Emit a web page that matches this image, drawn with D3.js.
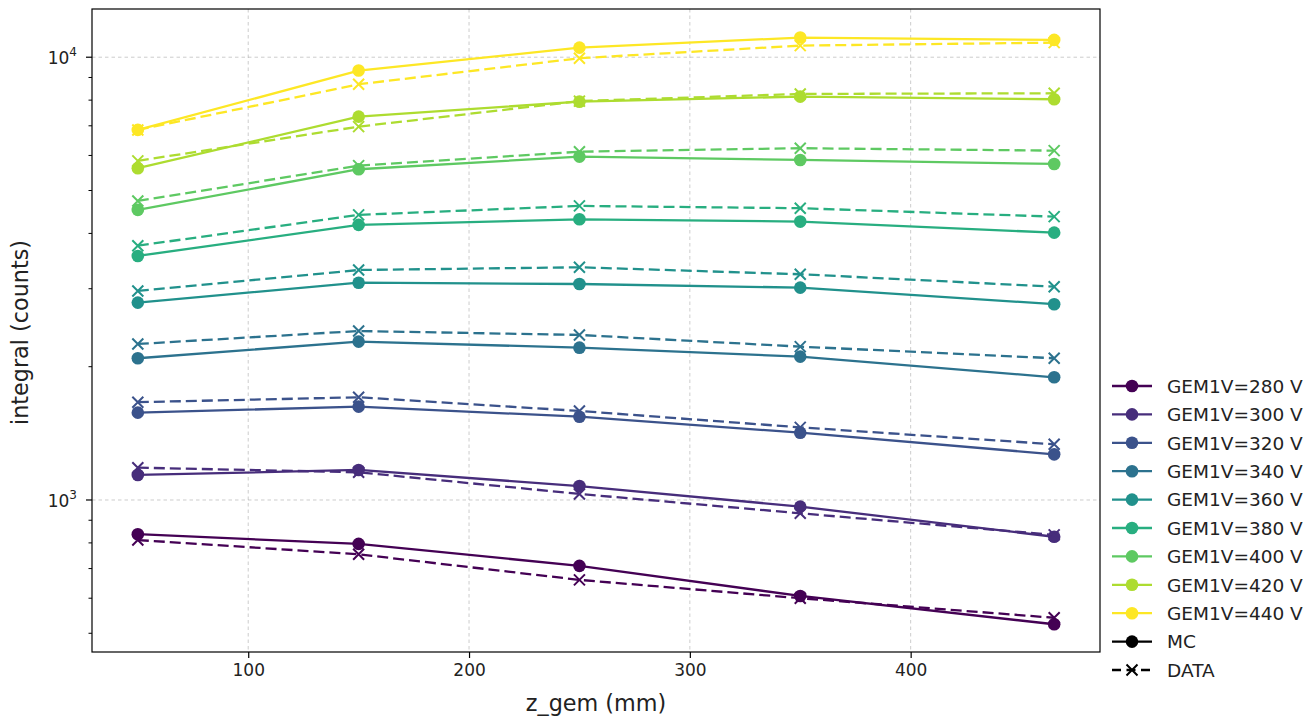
<!DOCTYPE html>
<html>
<head>
<meta charset="utf-8">
<script src="https://cdn.jsdelivr.net/npm/d3@7"></script>
<style>
  body { margin: 0; background: #fff; }
  svg { display: block; font-family: "DejaVu Sans", sans-serif; }
</style>
</head>
<body>
<svg id="chart" width="1307" height="717"></svg>
<script>
// Positions along the detector (mm)
const zGem = [50, 150, 250, 350, 465];

// GEM1 voltages, one curve pair (MC / DATA) per voltage
const voltages = [280, 300, 320, 340, 360, 380, 400, 420, 440];

// Simulated integrals (counts)
const mc280 = [837, 796, 710, 607, 524];
const mc300 = [1139, 1169, 1075, 966, 826];
const mc320 = [1575, 1625, 1542, 1419, 1268];
const mc340 = [2090, 2279, 2208, 2108, 1893];
const mc360 = [2791, 3096, 3075, 3017, 2768];
const mc380 = [3558, 4181, 4305, 4254, 4016];
const mc400 = [4520, 5585, 5964, 5861, 5741];
const mc420 = [5614, 7341, 7936, 8147, 8037];
const mc440 = [6852, 9329, 10512, 11076, 10942];

// Measured integrals (counts)
const data280 = [812, 754, 660, 600, 542];
const data300 = [1183, 1155, 1032, 933, 834];
const data320 = [1663, 1706, 1589, 1459, 1336];
const data340 = [2251, 2408, 2359, 2220, 2090];
const data360 = [2966, 3307, 3354, 3235, 3032];
const data380 = [3753, 4404, 4615, 4560, 4364];
const data400 = [4736, 5690, 6118, 6230, 6152];
const data420 = [5833, 6970, 7960, 8262, 8291];
const data440 = [6850, 8690, 9948, 10622, 10790];

const mcSeries = [mc280, mc300, mc320, mc340, mc360, mc380, mc400, mc420, mc440];
const dataSeries = [data280, data300, data320, data340, data360, data380, data400, data420, data440];

const xTicks = [100, 200, 300, 400];
const yMajor = [1000, 10000];

const svg = d3.select("#chart");
const L = 92, R = 1100, T = 9, B = 652;

const x = d3.scaleLinear().domain([29.25, 485.75]).range([L, R]);
const y = d3.scaleLog().domain([453.6, 12850]).range([B, T]);

const color = i => d3.interpolateViridis(i / (voltages.length - 1));

// grid
const grid = svg.append("g").attr("stroke", "#b0b0b0").attr("stroke-opacity", 0.7)
  .attr("stroke-width", 0.9).attr("stroke-dasharray", "3.5,3");
grid.selectAll("line.gx").data(xTicks).join("line")
  .attr("x1", d => x(d)).attr("x2", d => x(d)).attr("y1", T).attr("y2", B);
grid.selectAll("line.gy").data(yMajor).join("line")
  .attr("x1", L).attr("x2", R).attr("y1", d => y(d)).attr("y2", d => y(d));

// x axis
const xAxis = svg.append("g").attr("transform", `translate(0,${B})`)
  .call(d3.axisBottom(x).tickValues(xTicks).tickSize(6).tickPadding(6).tickFormat(d3.format("d")))
  .attr("font-family", "DejaVu Sans, sans-serif").attr("font-size", 17);
xAxis.select(".domain").remove();
xAxis.selectAll("text").attr("fill", "#222");
xAxis.selectAll("line").attr("stroke", "#000").attr("stroke-width", 1.2);

// y axis: major and minor ticks
const minor = [];
for (let e = 2; e <= 4; e++) for (let m = 2; m <= 9; m++) {
  const v = m * Math.pow(10, e);
  if (v > y.domain()[0] && v < y.domain()[1]) minor.push(v);
}
svg.append("g").selectAll("line").data(minor).join("line")
  .attr("x1", L - 3.5).attr("x2", L).attr("y1", d => y(d)).attr("y2", d => y(d))
  .attr("stroke", "#000").attr("stroke-width", 1);
svg.append("g").selectAll("line").data(yMajor).join("line")
  .attr("x1", L - 6).attr("x2", L).attr("y1", d => y(d)).attr("y2", d => y(d))
  .attr("stroke", "#000").attr("stroke-width", 1.2);
const yl = svg.append("g").selectAll("text").data(yMajor).join("text")
  .attr("x", L - 15).attr("y", d => y(d) + 7).attr("text-anchor", "end")
  .attr("font-size", 17).attr("fill", "#222");
yl.append("tspan").text("10");
yl.append("tspan").attr("dy", -8).attr("font-size", 12).text(d => Math.round(Math.log10(d)));

// axis labels
svg.append("text").attr("x", (L + R) / 2).attr("y", 711).attr("text-anchor", "middle")
  .attr("font-size", 22.3).attr("fill", "#222").text("z_gem (mm)");
svg.append("text").attr("transform", `translate(28,${(T + B) / 2 + 2}) rotate(-90)`)
  .attr("text-anchor", "middle").attr("font-size", 22.3).attr("fill", "#222").text("integral (counts)");

// curves
const line = d3.line().x((d, i) => x(zGem[i])).y(d => y(d));
const plot = svg.append("g");
function cross(g, cx, cy, s, c) {
  g.append("path").attr("d", `M${cx - s},${cy - s}L${cx + s},${cy + s}M${cx - s},${cy + s}L${cx + s},${cy - s}`)
    .attr("stroke", c).attr("stroke-width", 2).attr("fill", "none");
}
voltages.forEach((v, i) => {
  const c = color(i);
  plot.append("path").attr("d", line(mcSeries[i])).attr("fill", "none")
    .attr("stroke", c).attr("stroke-width", 2.3);
  plot.append("g").selectAll("circle").data(mcSeries[i]).join("circle")
    .attr("cx", (d, k) => x(zGem[k])).attr("cy", d => y(d)).attr("r", 6.3).attr("fill", c);
  plot.append("path").attr("d", line(dataSeries[i])).attr("fill", "none")
    .attr("stroke", c).attr("stroke-width", 2.3).attr("stroke-dasharray", "11,5");
  const g = plot.append("g");
  dataSeries[i].forEach((d, k) => cross(g, x(zGem[k]), y(d), 5.5, c));
});

// frame
svg.append("rect").attr("x", L).attr("y", T).attr("width", R - L).attr("height", B - T)
  .attr("fill", "none").attr("stroke", "#000").attr("stroke-width", 1.2);

// legend
const legend = svg.append("g");
const entries = voltages.map((v, i) => ({ label: `GEM1V=${v} V`, color: color(i), kind: "mc" }))
  .concat([{ label: "MC", color: "#000", kind: "mc" }, { label: "DATA", color: "#000", kind: "data" }]);
entries.forEach((e, i) => {
  const ly = 386 + i * 28.4;
  const g = legend.append("g");
  g.append("line").attr("x1", 1112).attr("x2", 1152).attr("y1", ly).attr("y2", ly)
    .attr("stroke", e.color).attr("stroke-width", 2.3)
    .attr("stroke-dasharray", e.kind === "data" ? "9,5.5" : null);
  if (e.kind === "mc") g.append("circle").attr("cx", 1132).attr("cy", ly).attr("r", 6.3).attr("fill", e.color);
  else cross(g, 1132, ly, 5.5, e.color);
  g.append("text").attr("x", 1167).attr("y", ly + 6.8).attr("font-size", 18.5).attr("fill", "#222").text(e.label);
});
</script>
</body>
</html>
